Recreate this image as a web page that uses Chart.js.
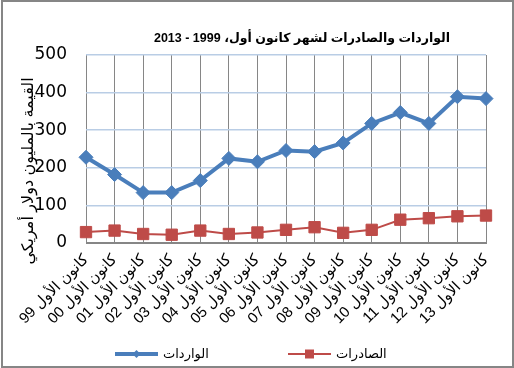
<!DOCTYPE html>
<html>
<head>
<meta charset="utf-8">
<script src="https://cdn.jsdelivr.net/npm/chart.js@4.4.1/dist/chart.umd.min.js"></script>
<style>
  html, body { margin: 0; padding: 0; background: #fff; }
  #chart { direction: rtl; display: block; }
</style>
</head>
<body>
<canvas id="chart" width="514" height="368"></canvas>
<script>
// December values 1999 - 2013, million USD
const categories = [
    'كانون الأول 99', 'كانون الأول 00', 'كانون الأول 01', 'كانون الأول 02', 'كانون الأول 03',
    'كانون الأول 04', 'كانون الأول 05', 'كانون الأول 06', 'كانون الأول 07', 'كانون الأول 08',
    'كانون الأول 09', 'كانون الأول 10', 'كانون الأول 11', 'كانون الأول 12', 'كانون الأول 13'
];
const imports = [228, 182, 134, 134, 166, 225, 216, 246, 243, 266, 318, 347, 318, 389, 384];
const exports = [29, 33, 24, 22, 33, 24, 28, 35, 42, 27, 35, 62, 66, 71, 73];
const yTicks = [0, 100, 200, 300, 400, 500];

const chartTitle = 'الواردات والصادرات لشهر كانون أول، 1999 - 2013';
const yTitle = 'القيمة بالمليون دولار أمريكي';
const importsLabel = 'الواردات';
const exportsLabel = 'الصادرات';

const ARABIC_FONT = "'Liberation Sans', 'DejaVu Sans', sans-serif";

// white background + grey outer frame
const framePlugin = {
    id: 'frame',
    beforeDraw(chart) {
        const c = chart.ctx;
        c.save();
        c.fillStyle = '#fff';
        c.fillRect(0, 0, chart.width, chart.height);
        c.restore();
    },
    afterDraw(chart) {
        const c = chart.ctx;
        c.save();
        c.strokeStyle = '#868686';
        c.lineWidth = 2;
        c.strokeRect(2, 1, chart.width - 3, chart.height - 2);
        c.restore();
    }
};

// title and rotated y title, placed like the original
const textPlugin = {
    id: 'texts',
    afterDraw(chart) {
        const c = chart.ctx;
        c.save();
        c.fillStyle = '#000';
        c.textAlign = 'center';
        c.textBaseline = 'middle';
        c.font = 'bold 12.5px ' + ARABIC_FONT;
        c.fillText(chartTitle, 302, 39);

        c.translate(29, 171);
        c.rotate(-Math.PI / 2);
        c.font = '16px ' + ARABIC_FONT;
        c.fillText(yTitle, 0, 0);
        c.restore();
    }
};

function drawMarker(c, style, x, y, r, color) {
    c.fillStyle = color;
    c.beginPath();
    if (style === 'rectRot') {
        c.moveTo(x - r, y);
        c.lineTo(x, y - r);
        c.lineTo(x + r, y);
        c.lineTo(x, y + r);
        c.closePath();
    } else {
        c.rect(x - r, y - r, 2 * r, 2 * r);
    }
    c.fill();
}

// Excel-like legend: line with marker, then label
const legendPlugin = {
    id: 'lineLegend',
    afterDraw(chart) {
        const c = chart.ctx;
        const starts = [115, 288];
        const y = 354;
        c.save();
        chart.data.datasets.forEach((ds, i) => {
            const x0 = starts[i];
            c.strokeStyle = ds.borderColor;
            c.lineWidth = ds.borderWidth;
            c.beginPath();
            c.moveTo(x0, y);
            c.lineTo(x0 + 43, y);
            c.stroke();
            drawMarker(c, ds.pointStyle, x0 + 21.5, y, ds.pointStyle === 'rectRot' ? 4 : 4.5, ds.backgroundColor);
            c.fillStyle = '#000';
            c.font = '13px ' + ARABIC_FONT;
            c.textAlign = 'left';
            c.textBaseline = 'middle';
            c.direction = 'ltr';
            c.fillText(ds.label, x0 + 48, y);
        });
        c.restore();
    }
};

const ctx = document.getElementById('chart').getContext('2d');
new Chart(ctx, {
    type: 'line',
    data: {
        labels: categories,
        datasets: [{
            label: importsLabel,
            data: imports,
            borderColor: '#4a7ebb',
            backgroundColor: '#4a7ebb',
            borderWidth: 4,
            pointStyle: 'rectRot',
            pointRadius: 7,
            pointHoverRadius: 7,
            pointBorderWidth: 1,
            tension: 0,
            clip: false
        }, {
            label: exportsLabel,
            data: exports,
            borderColor: '#be4b48',
            backgroundColor: '#be4b48',
            borderWidth: 2,
            pointStyle: 'rect',
            pointRadius: 8,
            pointHoverRadius: 8,
            pointBorderWidth: 1,
            tension: 0,
            clip: false
        }]
    },
    options: {
        responsive: false,
        animation: false,
        layout: {
            padding: { left: 0, top: 55, right: 28, bottom: 25 }
        },
        scales: {
            x: {
                type: 'category',
                offset: false,
                grid: {
                    color: '#868686',
                    drawTicks: false
                },
                border: { color: '#868686' },
                ticks: {
                    autoSkip: false,
                    minRotation: 45,
                    maxRotation: 45,
                    padding: 8,
                    color: '#000',
                    font: { family: ARABIC_FONT, size: 15 }
                },
                afterFit: s => { s.height = 100; }
            },
            y: {
                min: 0,
                max: 500,
                afterBuildTicks: s => { s.ticks = yTicks.map(v => ({ value: v })); },
                grid: {
                    color: g => (g.tick && g.tick.value === 0) ? '#868686' : '#b9cde5',
                    lineWidth: 1.5,
                    drawTicks: false
                },
                border: { display: false },
                ticks: {
                    padding: 19,
                    color: '#000',
                    font: { family: "'DejaVu Sans', sans-serif", size: 17 }
                },
                afterFit: s => { s.width = 86; }
            }
        },
        plugins: {
            legend: { display: false },
            title: { display: false },
            tooltip: { enabled: false }
        }
    },
    plugins: [framePlugin, textPlugin, legendPlugin]
});
</script>
</body>
</html>
